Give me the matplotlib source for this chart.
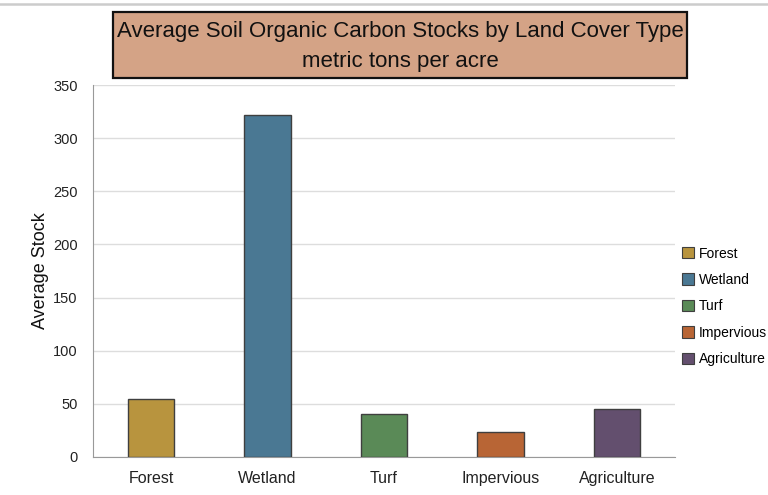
import matplotlib
matplotlib.use("Agg")
import matplotlib.pyplot as plt
from matplotlib.patches import Rectangle, Patch
from matplotlib.lines import Line2D

plt.rcParams['font.family'] = ['Liberation Sans', 'DejaVu Sans']

categories = ["Forest", "Wetland", "Turf", "Impervious", "Agriculture"]
values = [54, 322, 40.5, 23, 45]
colors = ["#B8943E", "#4A7893", "#5A8A57", "#B86535", "#634F6E"]
yticks = [0, 50, 100, 150, 200, 250, 300, 350]
title_line1 = "Average Soil Organic Carbon Stocks by Land Cover Type"
title_line2 = "metric tons per acre"

W, H = 768, 495
fig = plt.figure(figsize=(W / 100, H / 100), dpi=100)
ax = fig.add_axes([93 / W, 1 - 456.7 / H, (675 - 93) / W, (456.7 - 85.3) / H])

x = range(len(categories))
ax.bar(x, values, width=0.40, color=colors, edgecolor="#3f3f3f", linewidth=1.0, zorder=3)
ax.set_xlim(-0.5, len(categories) - 0.5)
ax.set_ylim(0, 350)
ax.set_yticks(yticks)
ax.set_xticks(list(x))
ax.set_xticklabels(categories, fontsize=11.5)
ax.tick_params(axis='y', labelsize=10.5, length=0, pad=11, colors="#222222")
ax.tick_params(axis='x', length=0, pad=10, colors="#222222")
ax.grid(axis='y', color="#dddddd", linewidth=1.0, zorder=0)
for s in ["top", "right"]:
    ax.spines[s].set_visible(False)
ax.spines["left"].set_color("#999999")
ax.spines["bottom"].set_color("#999999")
ax.set_ylabel("Average Stock", fontsize=13, labelpad=3, color="#111111")

handles = [Patch(facecolor=c, edgecolor="#3f3f3f", linewidth=0.8) for c in colors]
leg = fig.legend(handles, categories, loc="center left", bbox_to_anchor=(676 / W, 1 - 306.5 / H),
                 frameon=False, fontsize=10, handlelength=0.9, handleheight=0.9,
                 handletextpad=0.35, labelspacing=0.9, borderaxespad=0)

# top gray rule
fig.add_artist(Line2D([0, 1], [1 - 3.5 / H, 1 - 3.5 / H], color="#cccccc", linewidth=1.8))

# title box
fig.add_artist(Rectangle((113 / W, 1 - 78 / H), (687 - 113) / W, (78 - 12) / H,
                         facecolor="#D4A386", edgecolor="#111111", linewidth=1.6,
                         transform=fig.transFigure))
fig.text(400 / W, 1 - 29 / H, title_line1, ha="center", va="center_baseline", fontsize=16, color="#111111")
fig.text(400 / W, 1 - 59 / H, title_line2, ha="center", va="center_baseline", fontsize=16, color="#111111")

fig.savefig("out.png", dpi=100)
